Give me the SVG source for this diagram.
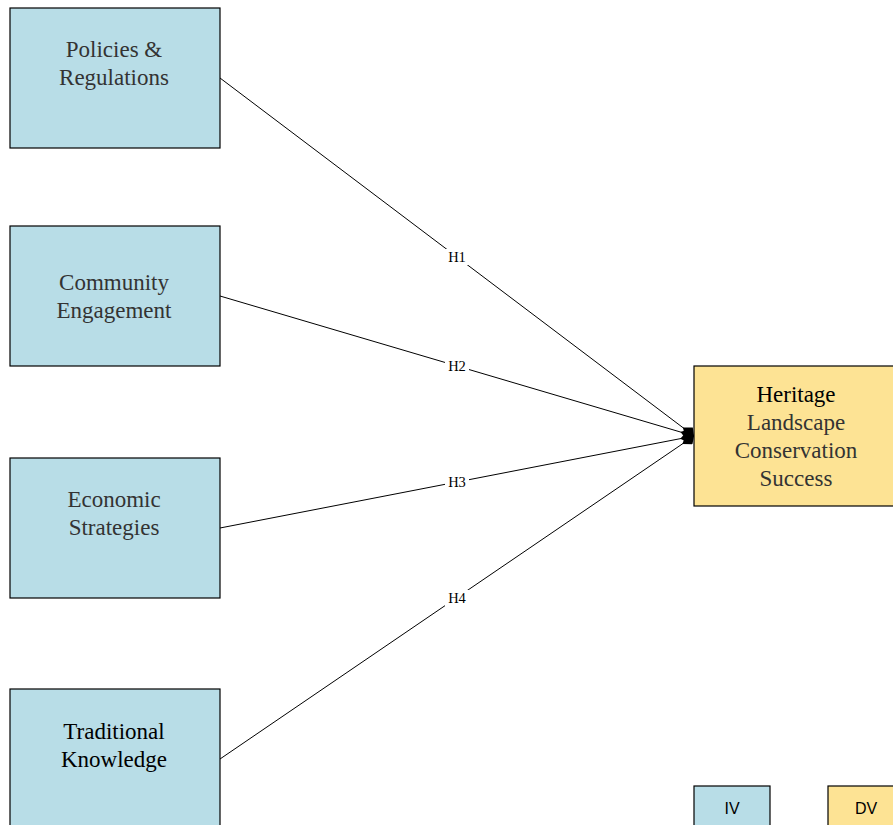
<svg xmlns="http://www.w3.org/2000/svg" width="893" height="825" viewBox="0 0 893 825">
<style>
.iv{fill:#b8dde7;stroke:#000;stroke-width:1.2}
.dv{fill:#fde394;stroke:#000;stroke-width:1.2}
.t{font-family:"Liberation Serif",serif;font-size:23px;fill:#333;text-anchor:middle}
.tb{fill:#000}
.e{stroke:#000;stroke-width:1;fill:none;marker-end:url(#dm)}
.lb{font-family:"Liberation Serif",serif;font-size:14.5px;fill:#000;text-anchor:middle}
.lg{font-family:"Liberation Sans",sans-serif;font-size:16px;fill:#000;text-anchor:middle}
</style>
<defs>
<marker id="dm" markerWidth="16" markerHeight="12" refX="14" refY="6" orient="auto" markerUnits="userSpaceOnUse">
<path d="M0,6 L8,0 L14,6 L8,12 Z" fill="#000"/>
</marker>
</defs>
<rect width="893" height="825" fill="#fff"/>
<g id="connectors">
<line class="e" x1="220" y1="78" x2="694" y2="436"/>
<line class="e" x1="220" y1="296" x2="694" y2="436"/>
<line class="e" x1="220" y1="528" x2="694" y2="436"/>
<line class="e" x1="220" y1="759" x2="694" y2="436"/>
<rect x="445" y="249" width="24" height="16" fill="#fff"/>
<text class="lb" x="457" y="262">H1</text>
<rect x="445" y="358" width="24" height="16" fill="#fff"/>
<text class="lb" x="457" y="371">H2</text>
<rect x="445" y="474" width="24" height="16" fill="#fff"/>
<text class="lb" x="457" y="487">H3</text>
<rect x="445" y="590" width="24" height="16" fill="#fff"/>
<text class="lb" x="457" y="603">H4</text>
</g>
<g id="policies">
<rect class="iv" x="10" y="8" width="210" height="140"/>
<text class="t" x="114" y="57">Policies &amp;</text>
<text class="t" x="114" y="85">Regulations</text>
</g>
<g id="community">
<rect class="iv" x="10" y="226" width="210" height="140"/>
<text class="t" x="114" y="290">Community</text>
<text class="t" x="114" y="318">Engagement</text>
</g>
<g id="economic">
<rect class="iv" x="10" y="458" width="210" height="140"/>
<text class="t" x="114" y="507">Economic</text>
<text class="t" x="114" y="535">Strategies</text>
</g>
<g id="traditional">
<rect class="iv" x="10" y="689" width="210" height="140"/>
<text class="t tb" x="114" y="739">Traditional</text>
<text class="t tb" x="114" y="767">Knowledge</text>
</g>
<g id="heritage">
<rect class="dv" x="694" y="366" width="210" height="140"/>
<text class="t tb" x="796" y="402">Heritage</text>
<text class="t" x="796" y="430">Landscape</text>
<text class="t" x="796" y="458">Conservation</text>
<text class="t" x="796" y="486">Success</text>
</g>
<g id="legend-iv">
<rect class="iv" x="694" y="786" width="76" height="50"/>
<text class="lg" x="732" y="814">IV</text>
</g>
<g id="legend-dv">
<rect class="dv" x="828" y="786" width="76" height="50"/>
<text class="lg" x="866" y="814">DV</text>
</g>
</svg>
